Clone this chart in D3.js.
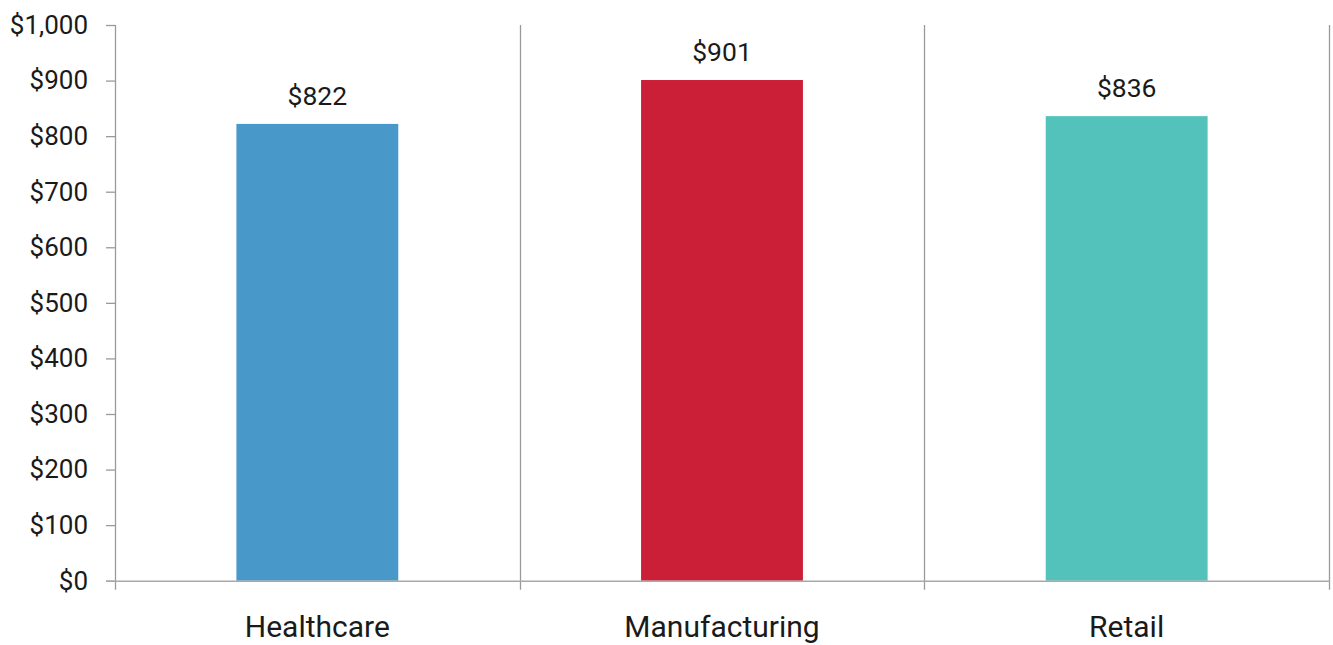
<!DOCTYPE html>
<html>
<head>
<meta charset="utf-8">
<script src="https://cdn.jsdelivr.net/npm/d3@7"></script>
<style>
  body { margin: 0; background: #fff; }
  text { font-family: "Roboto", "Liberation Sans", sans-serif; fill: #1a1a1a; }
</style>
</head>
<body>
<svg></svg>
<script>
// Setting
const width = 1333;
const height = 645;
const margin = {top: 25, right: 4, bottom: 64, left: 115};

// Data
const categories = ["Healthcare", "Manufacturing", "Retail"];
const values = [822, 901, 836];
const barColors = ["#4898CA", "#CB1F37", "#52C2BA"];
const yTicks = [0, 100, 200, 300, 400, 500, 600, 700, 800, 900, 1000];

const svg = d3.select("svg")
  .attr("width", width)
  .attr("height", height);

const x = d3.scaleBand()
  .domain(categories)
  .range([margin.left, width - margin.right])
  .paddingInner(0.6)
  .paddingOuter(0.3);

const y = d3.scaleLinear()
  .domain([0, 1000])
  .range([height - margin.bottom - 0.3, margin.top]);

const gridColor = "#9a9a9a";

// vertical separators between categories
const edges = categories.map((c, i) => margin.left + i * x.step()).concat([width - margin.right]);

svg.append("g")
  .selectAll("line")
  .data(edges.slice(1))
  .join("line")
  .attr("x1", d => Math.round(d) + 0.5)
  .attr("x2", d => Math.round(d) + 0.5)
  .attr("y1", y(1000))
  .attr("y2", y(0) + 9)
  .attr("stroke", gridColor)
  .attr("stroke-width", 1.3);

// bars
svg.append("g")
  .selectAll("rect")
  .data(values)
  .join("rect")
  .attr("x", (d, i) => x(categories[i]))
  .attr("y", d => y(d))
  .attr("width", x.bandwidth())
  .attr("height", d => y(0) - y(d))
  .attr("fill", (d, i) => barColors[i]);

// value labels
svg.append("g")
  .selectAll("text")
  .data(values)
  .join("text")
  .attr("x", (d, i) => x(categories[i]) + x.bandwidth() / 2)
  .attr("y", d => y(d) - 19)
  .attr("text-anchor", "middle")
  .style("font-size", "26.5px")
  .text(d => "$" + d3.format(",")(d));

// y axis
const yAxis = d3.axisLeft(y)
  .tickValues(yTicks)
  .tickSize(9)
  .tickPadding(18)
  .tickFormat(d => "$" + d3.format(",")(d));

const gy = svg.append("g")
  .attr("transform", `translate(${margin.left},0)`)
  .call(yAxis);
gy.select(".domain").attr("stroke", gridColor).attr("stroke-width", 1.3)
  .attr("d", `M0.5,${y(1000)}V${y(0) + 9}`);
gy.selectAll(".tick line").attr("stroke", gridColor).attr("stroke-width", 1.3);
gy.selectAll(".tick text").style("font-size", "26px").attr("fill", "#1a1a1a");

// x axis line
svg.append("line")
  .attr("x1", margin.left - 9)
  .attr("x2", width - margin.right + 1)
  .attr("y1", y(0) + 0.5)
  .attr("y2", y(0) + 0.5)
  .attr("stroke", "#a8a8a8")
  .attr("stroke-width", 1.5);

// category labels
svg.append("g")
  .selectAll("text")
  .data(categories)
  .join("text")
  .attr("x", d => x(d) + x.bandwidth() / 2)
  .attr("y", y(0) + 56)
  .attr("text-anchor", "middle")
  .style("font-size", "30px")
  .text(d => d);
</script>
</body>
</html>
